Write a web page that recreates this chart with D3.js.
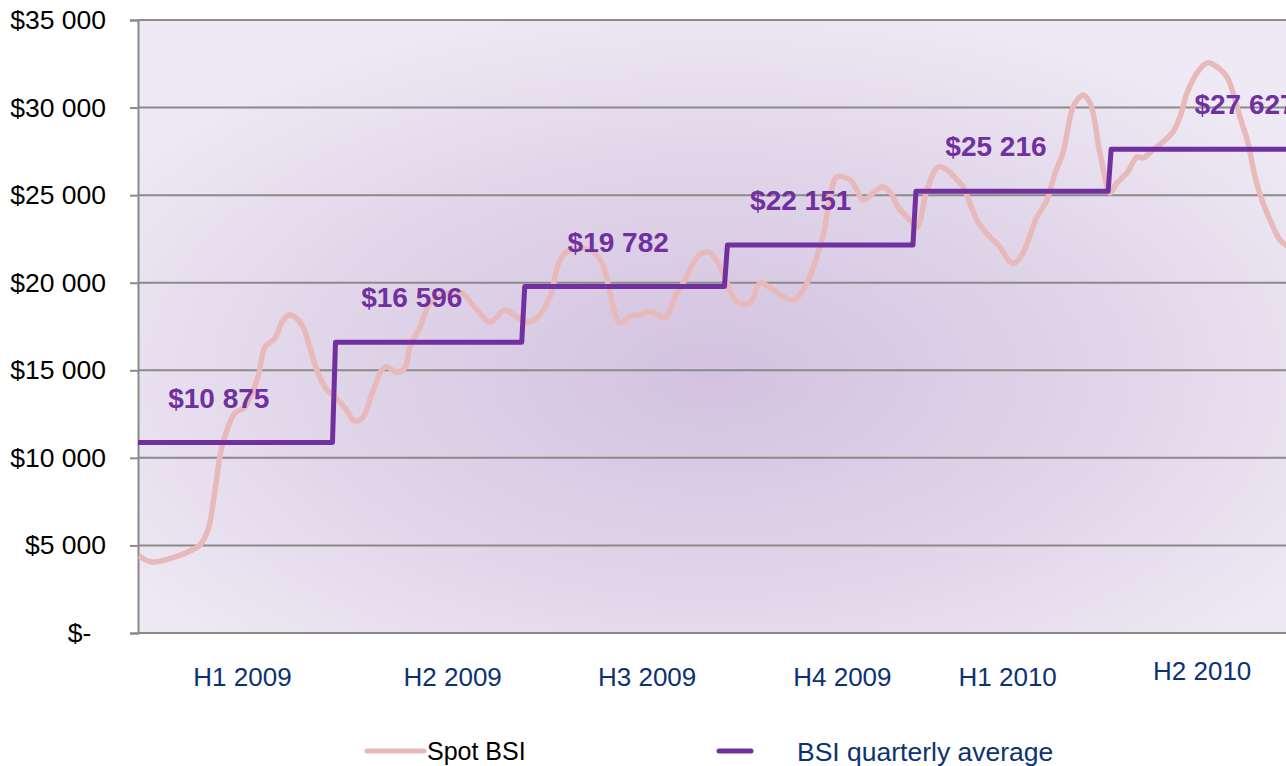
<!DOCTYPE html>
<html>
<head>
<meta charset="utf-8">
<script src="https://cdnjs.cloudflare.com/ajax/libs/d3/7.8.5/d3.min.js"></script>
<style>
  body { margin: 0; background: #fff; }
  text { font-family: "Liberation Sans", Arial, sans-serif; }
</style>
</head>
<body>
<script>
// Spot BSI (x in weeks from start of 2009)
var spotWeeks = [0.07, 0.94, 2.47, 3.48, 4.14, 4.68, 5.15, 5.61, 6.48, 7.15, 8.02, 8.49, 9.16, 9.63, 10.09, 10.56,
  11.03, 11.5, 12.03, 12.63, 13.17, 13.84, 14.5, 15.04, 15.71, 16.51, 17.31, 17.85, 18.18, 18.85, 19.52, 20.19,
  21.52, 22.66, 23.53, 24.53, 25.33, 26.0, 26.67, 27.54, 28.21, 28.88, 30.21, 31.02, 31.55, 32.22, 32.89, 33.56,
  34.02, 34.56, 35.23, 35.9, 36.56, 37.37, 37.77, 38.24, 38.77, 39.37, 40.04, 40.91, 41.58, 42.45, 43.78, 44.72,
  45.45, 45.86, 46.26, 46.72, 47.59, 48.06, 48.46, 49.73, 50.27, 50.8, 51.6, 52.07, 52.74, 53.48, 54.08, 54.75,
  55.15, 56.08, 56.95, 57.62, 58.29, 58.62, 59.16, 60.09, 60.76, 61.3, 61.83, 62.1, 62.43, 62.77, 63.17, 63.64,
  63.97, 64.17, 64.44, 64.77, 64.97, 65.44, 66.11, 66.78, 67.18, 67.85, 68.52, 69.18, 69.65, 70.12, 70.79, 71.46,
  72.13, 72.79, 73.2, 73.66, 74.2, 74.67, 75.13, 75.67, 76.34, 77.0];
var spotValues = [4400, 4050, 4340, 4680, 5025, 5880, 8165, 10620, 12560, 12900, 14620, 16330, 16840, 17760, 18160, 17990,
  17470, 16270, 14850, 13880, 13480, 12850, 12100, 12330, 13820, 15190, 14900, 15130, 16330, 17470, 18840, 19240,
  19470, 18440, 17760, 18440, 18040, 17760, 17990, 19190, 21300, 21870, 21870, 21130, 19410, 17700, 18100, 18160,
  18330, 18270, 17990, 19190, 20160, 21470, 21700, 21700, 21130, 19990, 18900, 18840, 19990, 19590, 19010, 19990,
  21700, 22900, 24900, 26040, 25870, 25300, 24720, 25470, 25180, 24320, 23580, 23180, 25300, 26610, 26440, 25870,
  25470, 23580, 22610, 22040, 21180, 21130, 21700, 23750, 24720, 26270, 27410, 28550, 29860, 30430, 30720, 30260,
  29120, 27980, 26840, 25470, 25120, 25700, 26270, 27180, 27120, 27580, 28040, 28610, 29460, 30830, 31980, 32550,
  32320, 31750, 30830, 29460, 27980, 26040, 24720, 23580, 22440, 22000];

// BSI quarterly average
var quarterStart = [0, 13.2, 25.85, 39.4, 52.0, 65.05];
var quarterEnd = [13.0, 25.65, 39.2, 51.8, 64.85, 77];
var quarterAvg = [10875, 16596, 19782, 22151, 25216, 27627];
var avgLabelWeeks = [5.4, 18.3, 32.1, 44.3, 57.35, 74.0];

// category labels under the axis
var periodLabels = ["H1 2009", "H2 2009", "H3 2009", "H4 2009", "H1 2010", "H2 2010"];
var periodWeeks = [6.95, 21.0, 34.0, 47.05, 58.1, 71.1];

var yTicks = [0, 5000, 10000, 15000, 20000, 25000, 30000, 35000];

var width = 1286, height = 766;
var margin = {top: 20, left: 138, bottom: 133};

var locale = d3.formatLocale({decimal: ".", thousands: " ", grouping: [3], currency: ["$", ""]});
var money = locale.format("$,.0f");

var x = d3.scaleLinear().domain([0, 77]).range([margin.left, margin.left + 77 * 14.96]);
var y = d3.scaleLinear().domain([0, 35000]).range([height - margin.bottom, margin.top]);

var svg = d3.select("body").append("svg")
  .attr("width", width)
  .attr("height", height);

var defs = svg.append("defs");
var grad = defs.append("radialGradient")
  .attr("id", "bg")
  .attr("cx", "0.5").attr("cy", "0.58").attr("r", "0.62");
grad.append("stop").attr("offset", "0%").attr("stop-color", "#d4c2e0");
grad.append("stop").attr("offset", "55%").attr("stop-color", "#e0d5e9");
grad.append("stop").attr("offset", "100%").attr("stop-color", "#eee9f4");

defs.append("clipPath").attr("id", "plot")
  .append("rect")
  .attr("x", x(0)).attr("y", 0)
  .attr("width", width - x(0)).attr("height", y(0));

// plot background
svg.append("rect")
  .attr("x", x(0)).attr("y", y(35000))
  .attr("width", x(77) - x(0)).attr("height", y(0) - y(35000))
  .attr("fill", "url(#bg)");

// gridlines + y axis
var yAxis = svg.append("g")
  .attr("transform", "translate(" + x(0) + ",0)")
  .call(d3.axisLeft(y).tickValues(yTicks).tickSize(8).tickPadding(24)
    .tickFormat(function(d) { return d === 0 ? "$-  " : money(d); }));
yAxis.select(".domain").attr("stroke", "#8a8a8a").attr("stroke-width", 2);
yAxis.selectAll(".tick line").attr("stroke", "#8a8a8a").attr("stroke-width", 2);
yAxis.selectAll(".tick text")
  .attr("font-size", 26.5)
  .attr("fill", "#000")
  .style("white-space", "pre")
  .attr("font-family", "Liberation Sans, Arial, sans-serif");

svg.append("g")
  .selectAll("line")
  .data(yTicks)
  .enter()
  .append("line")
  .attr("x1", x(0)).attr("x2", width)
  .attr("y1", function(d) { return y(d); })
  .attr("y2", function(d) { return y(d); })
  .attr("stroke", "#8a8a8a")
  .attr("stroke-width", 2);

// x labels
var xAxis = svg.append("g")
  .attr("transform", "translate(0," + y(0) + ")")
  .call(d3.axisBottom(x).tickValues(periodWeeks).tickSize(0).tickPadding(35)
    .tickFormat(function(d, i) { return periodLabels[i]; }));
xAxis.select(".domain").remove();
xAxis.selectAll(".tick text")
  .attr("font-size", 26)
  .attr("fill", "#0c3273")
  .attr("font-family", "Liberation Sans, Arial, sans-serif")
  .attr("dy", function(d, i) { return i === periodLabels.length - 1 ? "0.45em" : "0.71em"; });

var plot = svg.append("g").attr("clip-path", "url(#plot)");

// spot line
var spotLine = d3.line()
  .x(function(d) { return x(d[0]); })
  .y(function(d) { return y(d[1]); })
  .curve(d3.curveCatmullRom.alpha(0.5));

plot.append("path")
  .datum(d3.zip(spotWeeks, spotValues))
  .attr("fill", "none")
  .attr("stroke", "#e8b9ba")
  .attr("stroke-width", 5.5)
  .attr("stroke-linejoin", "round")
  .attr("d", spotLine);

// quarterly average step line
var stepPoints = [];
quarterAvg.forEach(function(v, i) {
  stepPoints.push([quarterStart[i], v]);
  stepPoints.push([quarterEnd[i], v]);
});

plot.append("path")
  .datum(stepPoints)
  .attr("fill", "none")
  .attr("stroke", "#7030a0")
  .attr("stroke-width", 5)
  .attr("stroke-linejoin", "round")
  .attr("d", d3.line().x(function(d) { return x(d[0]); }).y(function(d) { return y(d[1]); }));

// average labels
plot.selectAll(".avg")
  .data(quarterAvg)
  .enter()
  .append("text")
  .attr("class", "avg")
  .attr("x", function(d, i) { return x(avgLabelWeeks[i]); })
  .attr("y", function(d) { return y(d) - 45; })
  .attr("dy", "0.36em")
  .attr("text-anchor", "middle")
  .attr("font-size", 28)
  .attr("font-weight", "bold")
  .attr("fill", "#7030a0")
  .text(function(d) { return money(d); });

// legend
var legend = svg.append("g").attr("transform", "translate(0,751)");
legend.append("line")
  .attr("x1", 367).attr("x2", 424)
  .attr("stroke", "#e8b9ba").attr("stroke-width", 5).attr("stroke-linecap", "round");
legend.append("text")
  .attr("x", 427).attr("dy", "0.36em")
  .attr("font-size", 25).attr("fill", "#000")
  .text("Spot BSI");
legend.append("line")
  .attr("x1", 719).attr("x2", 751)
  .attr("stroke", "#7030a0").attr("stroke-width", 5).attr("stroke-linecap", "round");
legend.append("text")
  .attr("x", 797).attr("dy", "0.36em")
  .attr("font-size", 26.5).attr("fill", "#0c3273")
  .text("BSI quarterly average");
</script>
</body>
</html>
